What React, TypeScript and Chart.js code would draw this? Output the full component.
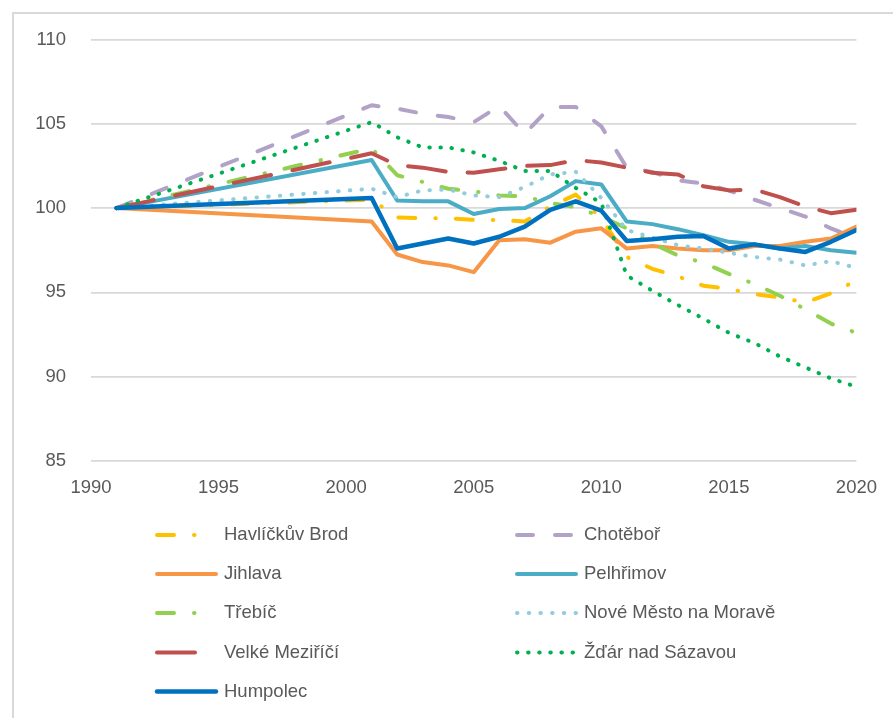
import React, { useEffect, useRef } from "react";
import { Chart, registerables } from "chart.js";

Chart.register(...registerables);

const years = [1991, 2001, 2002, 2003, 2004, 2005, 2006, 2007, 2008, 2009, 2010, 2011, 2012, 2013, 2014, 2015, 2016, 2017, 2018, 2019, 2020];

const havlickuvBrod = [100, 100.5, 99.45, 99.4, 99.4, 99.3, 99.3, 99.2, 100.1, 100.8, 99.4, 97.1, 96.4, 95.95, 95.4, 95.2, 94.9, 94.7, 94.4, 94.95, 95.7];
const chotebor = [100, 106.1, 105.9, 105.6, 105.4, 105.1, 106.05, 104.4, 106.0, 106.0, 104.85, 102.4, 102.15, 101.65, 101.45, 101.05, 100.5, 100.0, 99.5, 98.8, 98.2];
const jihlava = [100, 99.2, 97.25, 96.8, 96.6, 96.2, 98.1, 98.15, 97.95, 98.6, 98.8, 97.6, 97.75, 97.6, 97.5, 97.5, 97.75, 97.75, 98.0, 98.2, 98.9];
const pelhrimov = [100, 102.85, 100.45, 100.4, 100.4, 99.65, 99.95, 100.0, 100.7, 101.6, 101.4, 99.2, 99.05, 98.75, 98.4, 98.0, 97.85, 97.6, 97.75, 97.5, 97.35];
const trebic = [100, 103.55, 101.95, 101.55, 101.15, 101.0, 100.75, 100.7, 100.3, 100.05, 99.5, 98.8, 97.9, 97.2, 96.75, 96.1, 95.5, 94.8, 94.0, 93.15, 92.6];
const noveMesto = [100, 101.15, 100.65, 101.05, 101.1, 100.75, 100.65, 101.25, 102.0, 102.15, 100.6, 98.7, 98.25, 97.8, 97.6, 97.35, 97.1, 96.95, 96.6, 96.85, 96.45];
const velkeMezirici = [100, 103.25, 102.55, 102.4, 102.15, 102.1, 102.3, 102.5, 102.55, 102.85, 102.7, 102.4, 102.1, 102.0, 101.3, 101.05, 101.1, 100.65, 100.1, 99.7, 99.9];
const zdar = [100, 105.1, 104.2, 103.6, 103.6, 103.3, 102.8, 102.2, 102.2, 101.2, 100.3, 96.0, 95.1, 94.25, 93.45, 92.6, 92.0, 91.2, 90.55, 89.9, 89.4];
const humpolec = [100, 100.6, 97.6, 97.9, 98.2, 97.9, 98.3, 98.9, 99.9, 100.4, 99.85, 98.05, 98.15, 98.3, 98.35, 97.6, 97.85, 97.6, 97.4, 98.0, 98.7];

const xTicks = { min: 1990, max: 2020, step: 5 };
const yTicks = { min: 85, max: 110, step: 5 };

const TEXT = "#595959";
const FONT = '"Liberation Sans", Arial, sans-serif';

type S = { label: string; data: number[]; color: string; dash: number[]; width: number; legendEnd: number };

const series: S[] = [
  { label: "Havlíčkův Brod", data: havlickuvBrod, color: "#FFC000", dash: [17, 20, 0.5, 20], width: 4, legendEnd: 200 },
  { label: "Chotěboř", data: chotebor, color: "#B3A2C7", dash: [16, 22], width: 4, legendEnd: 578 },
  { label: "Jihlava", data: jihlava, color: "#F79646", dash: [], width: 4, legendEnd: 218 },
  { label: "Pelhřimov", data: pelhrimov, color: "#4BACC6", dash: [], width: 4, legendEnd: 578 },
  { label: "Třebíč", data: trebic, color: "#92D050", dash: [17, 20, 0.5, 20], width: 4, legendEnd: 200 },
  { label: "Nové Město na Moravě", data: noveMesto, color: "#93CDDD", dash: [0.5, 11.2], width: 4, legendEnd: 578 },
  { label: "Velké Meziříčí", data: velkeMezirici, color: "#C0504D", dash: [38, 22], width: 4, legendEnd: 200 },
  { label: "Žďár nad Sázavou", data: zdar, color: "#00B050", dash: [0.5, 10.6], width: 4, legendEnd: 578 },
  { label: "Humpolec", data: humpolec, color: "#0070C0", dash: [], width: 4.5, legendEnd: 218 },
];

const legendPlugin = {
  id: "customLegend",
  afterDraw(chart: any) {
    const ctx = chart.ctx as CanvasRenderingContext2D;
    const rows = [535, 574, 613, 652.5, 691.5];
    const cols = [
      { x0: 155, tx: 224 },
      { x0: 515, tx: 584 },
    ];
    ctx.save();
    series.forEach((s, i) => {
      const r = Math.floor(i / 2);
      const c = cols[i % 2];
      const y = rows[r];
      ctx.beginPath();
      ctx.strokeStyle = s.color;
      ctx.lineWidth = s.width;
      ctx.lineCap = "round";
      ctx.setLineDash(s.dash);
      ctx.moveTo(c.x0 + 2, y);
      ctx.lineTo(s.legendEnd - 2, y);
      ctx.stroke();
      ctx.setLineDash([]);
      ctx.fillStyle = TEXT;
      ctx.font = `18.5px ${FONT}`;
      ctx.textBaseline = "middle";
      ctx.textAlign = "left";
      ctx.fillText(s.label, c.tx, y);
    });
    ctx.restore();
  },
};

export default function App() {
  const ref = useRef<HTMLCanvasElement | null>(null);
  useEffect(() => {
    if (!ref.current) return;
    const chart = new Chart(ref.current, {
      type: "line",
      data: {
        datasets: series.map((s, i) => ({
          label: s.label,
          data: years.map((yr, k) => ({ x: yr, y: s.data[k] })),
          borderColor: s.color,
          backgroundColor: s.color,
          borderWidth: s.width,
          borderDash: s.dash,
          borderCapStyle: "round",
          borderJoinStyle: "round",
          pointRadius: 0,
          tension: 0,
          fill: false,
          order: series.length - i,
        })),
      },
      options: {
        responsive: false,
        animation: false,
        layout: { padding: { left: 0, top: 39.5, right: 35, bottom: 217 } },
        plugins: { legend: { display: false }, tooltip: { enabled: false } },
        scales: {
          x: {
            type: "linear",
            min: xTicks.min,
            max: xTicks.max,
            ticks: {
              stepSize: xTicks.step,
              color: TEXT,
              font: { family: FONT, size: 18.5 },
              padding: 16,
              maxRotation: 0,
              callback: (v: any) => String(v),
            },
            grid: { display: false, drawTicks: false },
            border: { display: false },
            afterFit: (scale: any) => {
              scale.height = 40;
            },
          },
          y: {
            min: yTicks.min,
            max: yTicks.max,
            ticks: {
              stepSize: yTicks.step,
              color: TEXT,
              font: { family: FONT, size: 18.5 },
              padding: 25,
            },
            grid: { color: "#d9d9d9", lineWidth: 1.8, drawTicks: false },
            border: { display: false },
            afterFit: (scale: any) => {
              scale.width = 91;
            },
          },
        },
      },
      plugins: [legendPlugin],
    });
    return () => chart.destroy();
  }, []);

  return (
    <div style={{ position: "absolute", left: 0, top: 0, width: 893, height: 718, background: "#fff", overflow: "hidden" }}>
      <div
        style={{
          position: "absolute",
          left: 12,
          top: 12,
          width: 893,
          height: 718,
          borderLeft: "2.5px solid #d9d9d9",
          borderTop: "2.5px solid #d9d9d9",
        }}
      />
      <canvas ref={ref} width={893} height={718} style={{ position: "absolute", left: 0, top: 0, width: 893, height: 718 }} />
    </div>
  );
}
